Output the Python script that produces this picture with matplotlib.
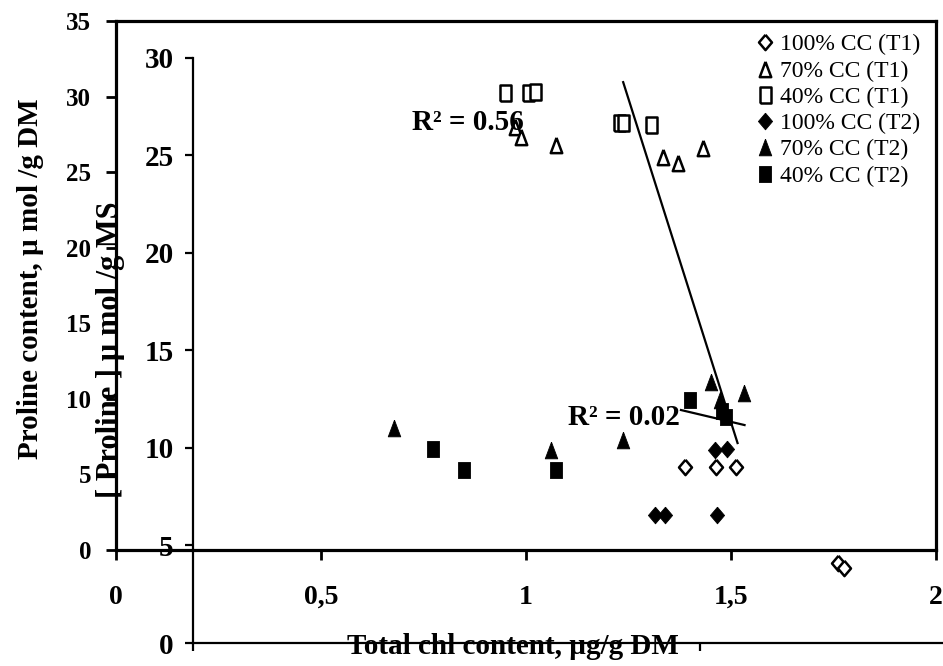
import matplotlib.pyplot as plt
import numpy as np

plt.rcParams['font.family'] = ['Liberation Serif', 'DejaVu Serif']
plt.rcParams['font.weight'] = 'bold'

# ---- data ----
chl_100_t1 = [1.388, 1.463, 1.512, 1.761, 1.776]
pro_100_t1 = [9.0, 9.0, 9.0, 4.08, 3.82]
chl_70_t1 = [0.972, 0.987, 1.074, 1.334, 1.371, 1.431]
pro_70_t1 = [26.45, 25.94, 25.53, 24.91, 24.60, 25.37]
chl_40_t1 = [0.948, 1.004, 1.023, 1.228, 1.236, 1.305]
pro_40_t1 = [28.2, 28.2, 28.25, 26.65, 26.65, 26.55]
chl_100_t2 = [1.315, 1.339, 1.465, 1.460, 1.490]
pro_100_t2 = [6.56, 6.56, 6.56, 9.89, 9.93]
chl_70_t2 = [0.678, 1.062, 1.237, 1.451, 1.473, 1.531]
pro_70_t2 = [11.02, 9.89, 10.40, 13.38, 12.45, 12.81]
chl_40_t2 = [0.773, 0.848, 1.074, 1.399, 1.478, 1.487]
pro_40_t2 = [9.94, 8.87, 8.87, 12.45, 11.9, 11.6]

# trend lines: slope, intercept, x range
fit1 = (-66.3, 110.76, 1.237, 1.516)
fit2 = (-4.97, 18.79, 1.378, 1.533)
r2_text = ['R² = 0.56', 'R² = 0.02']

outer_xticks = [0, 0.5, 1, 1.5, 2]
outer_xlabels = ['0', '0,5', '1', '1,5', '2']

W, H = 943, 666
fig = plt.figure(figsize=(9.43, 6.66), dpi=100)


def box(l, b, r, t):
    # pixel box -> figure fraction
    return [l / W, 1 - b / H, (r - l) / W, (b - t) / H]


# outer frame
ax1 = fig.add_axes(box(116, 550, 936, 21))
ax1.set_xlim(0, 2)
ax1.set_ylim(0, 35)
for s in ax1.spines.values():
    s.set_linewidth(2.3)
ax1.set_xticks(outer_xticks)
ax1.set_xticklabels(outer_xlabels)
ax1.set_yticks(np.arange(0, 36, 5))
ax1.tick_params(axis='x', direction='out', length=7, width=2, labelsize=20, pad=18)
ax1.tick_params(axis='y', direction='out', length=7, width=2, labelsize=18, pad=11)

# inner axes
ax2 = fig.add_axes(box(193, 643, 943, 57.7))
ax2.patch.set_visible(False)
ax2.spines['top'].set_visible(False)
ax2.spines['right'].set_visible(False)
ax2.spines['left'].set_linewidth(1.6)
ax2.spines['bottom'].set_linewidth(1.6)
ax2.set_ylim(0, 30)
ax2.set_xlim(0, 750 / 507)
ax2.set_yticks(np.arange(0, 31, 5))
ax2.set_xticks([0, 1])
ax2.set_xticklabels([])
ax2.tick_params(axis='y', direction='out', length=6, width=1.6, labelsize=21, pad=8)
ax2.tick_params(axis='x', direction='out', length=6, width=1.6)

# data layer
ax3 = fig.add_axes(box(116, 643, 936, 57.7))
ax3.set_axis_off()
ax3.set_xlim(0, 2)
ax3.set_ylim(0, 30)

diamond = [(0, 1), (0.85, 0), (0, -1), (-0.85, 0), (0, 1)]
tri = [(0, 1), (0.75, -1), (-0.75, -1), (0, 1)]
rect = [(-0.72, -1), (0.72, -1), (0.72, 1), (-0.72, 1), (-0.72, -1)]

series = [
    (chl_100_t1, pro_100_t1, diamond, False, '100% CC (T1)'),
    (chl_70_t1, pro_70_t1, tri, False, '70% CC (T1)'),
    (chl_40_t1, pro_40_t1, rect, False, '40% CC (T1)'),
    (chl_100_t2, pro_100_t2, diamond, True, '100% CC (T2)'),
    (chl_70_t2, pro_70_t2, tri, True, '70% CC (T2)'),
    (chl_40_t2, pro_40_t2, rect, True, '40% CC (T2)'),
]
for xs, ys, m, filled, lab in series:
    ax3.plot(xs, ys, linestyle='none', marker=m, ms=12 if filled else 11,
             mfc='black' if filled else 'white', mec='black',
             mew=0.6 if filled else 1.8, label=lab, clip_on=False, zorder=3)

for slope, icpt, x0, x1 in (fit1, fit2):
    xx = np.array([x0, x1])
    ax3.plot(xx, slope * xx + icpt, color='black', lw=1.6, zorder=4)

ax3.text(0.722, 26.29, r2_text[0], fontsize=21, ha='left', va='baseline', zorder=5)
ax3.text(1.103, 11.17, r2_text[1], fontsize=21, ha='left', va='baseline', zorder=5)

ax3.legend(loc='upper left', bbox_to_anchor=(753 / W, 1 - 34 / H),
           bbox_transform=fig.transFigure, frameon=False,
           prop={'family': 'Liberation Serif', 'weight': 'normal', 'size': 17},
           handlelength=1.0, handletextpad=0.15, labelspacing=0.2,
           borderpad=0, borderaxespad=0)

# axis titles
fig.text(31 / W, 1 - 279 / H, 'Proline content, µ mol /g DM', rotation=90,
         ha='center', va='center', fontsize=21)
fig.text(111 / W, 1 - 350 / H, '[ Proline ] µ mol /g MS', rotation=90,
         ha='center', va='center', fontsize=22)
fig.text(513 / W, 1 - 647 / H, 'Total chl content, µg/g DM',
         ha='center', va='center', fontsize=21)

plt.savefig('out.png', dpi=100)
